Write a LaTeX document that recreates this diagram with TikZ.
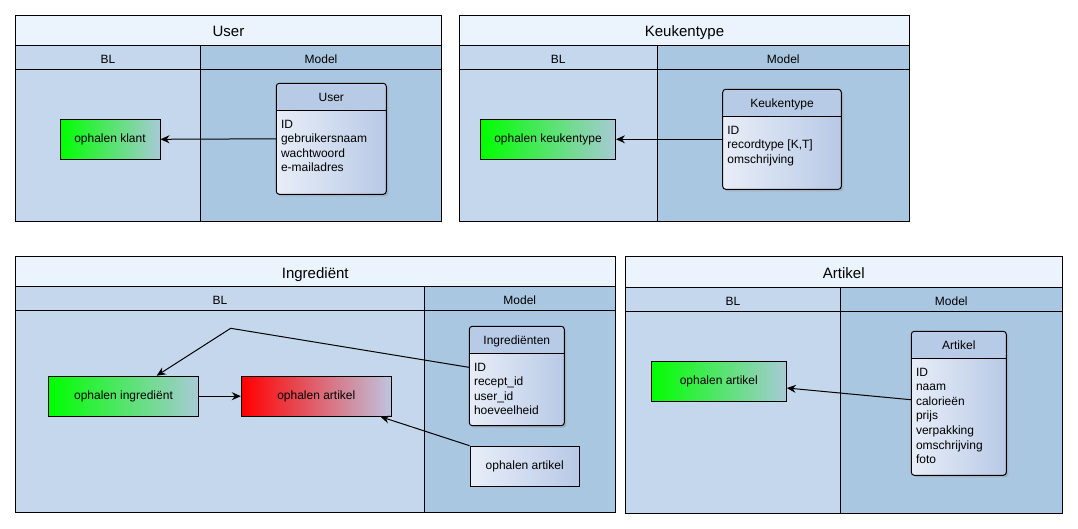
\documentclass[tikz,border=0pt]{standalone}
\usepackage{fontspec}
\setmainfont{Liberation Sans}
\usepackage{tikz}
\usetikzlibrary{arrows.meta}
\usetikzlibrary{shadows}

\definecolor{titlefill}{RGB}{235,243,253}
\definecolor{blfill}{RGB}{196,215,236}
\definecolor{modelfill}{RGB}{169,199,225}
\definecolor{entityhead}{RGB}{184,203,230}
\definecolor{entityleft}{RGB}{232,238,248}
\definecolor{entityright}{RGB}{184,201,230}
\definecolor{greenend}{RGB}{168,202,214}
\definecolor{redend}{RGB}{190,196,222}

\tikzset{
    paneltitle/.style={font=\fontsize{15}{18}\selectfont, anchor=base},
    lanetitle/.style={font=\fontsize{12}{14}\selectfont, anchor=base},
    greenbox/.style={draw, left color=green, right color=greenend, minimum height=40, font=\fontsize{12}{14}\selectfont},
    redbox/.style={draw, left color=red, right color=redend, minimum height=40, font=\fontsize{12}{14}\selectfont},
    modelbox/.style={draw, left color=entityleft, right color=entityright, minimum height=40, font=\fontsize{12}{14}\selectfont},
    entity/.style={draw, rounded corners=3pt, left color=entityleft, right color=entityright,
        drop shadow={shadow xshift=2pt, shadow yshift=-2pt, opacity=0.3},
        path picture={
            \fill[entityhead] (path picture bounding box.north west) rectangle ([yshift=-27pt]path picture bounding box.north east);
            \draw ([yshift=-27pt]path picture bounding box.north west) -- ([yshift=-27pt]path picture bounding box.north east);
        }},
    etitle/.style={font=\fontsize{12}{14}\selectfont, anchor=base},
    attrs/.style={font=\fontsize{12}{14.6}\selectfont, align=left, anchor=north west, inner sep=0pt},
    flow/.style={-{Stealth[length=9pt, width=8pt, inset=3pt]}}
}

% name, title, left, divider, right, top, bottom
\newcommand{\swimlane}[7]{%
    \draw[fill=titlefill] (#3, #6) rectangle (#5, #6+30);
    \draw[fill=blfill] (#3, #6+30) rectangle (#4, #7);
    \draw[fill=modelfill] (#4, #6+30) rectangle (#5, #7);
    \draw (#3, #6+54) -- (#5, #6+54);
    \node[paneltitle] (#1) at ({(#3+#5)/2}, #6+21.5) {#2};
    \node[lanetitle] (#1BL) at ({(#3+#4)/2}, #6+48) {BL};
    \node[lanetitle] (#1Model) at ({(#4+#5)/2}, #6+48) {Model};
}

\begin{document}
\begin{tikzpicture}[x=1pt, y=-1pt, line width=1pt]
    \useasboundingbox (0, 0) rectangle (1078, 529);

    \swimlane{user}{User}{15.5}{200.5}{441.5}{15.5}{221.5}
    \swimlane{keuken}{Keukentype}{459.5}{657}{909.5}{15.5}{221.5}
    \swimlane{ingredient}{Ingrediënt}{15.5}{424.5}{615}{256.5}{512.5}
    \swimlane{artikel}{Artikel}{625.5}{840.5}{1062}{257}{513}

    % User
    \node[greenbox, minimum width=100] (klant) at (110, 139.3) {ophalen klant};
    \node[entity, minimum width=110, minimum height=111] (userE) at (331.3, 138.8) {};
    \node[etitle] (userEt) at ([yshift=-19pt]userE.north) {User};
    \node[attrs] (userEa) at ([xshift=4.7pt, yshift=-36.5pt]userE.north west) {ID\\gebruikersnaam\\wachtwoord\\e-mailadres};
    \draw[flow] (userE.west) -- (klant.east);

    % Keukentype
    \node[greenbox, minimum width=135] (keuken) at (548, 139.3) {ophalen keukentype};
    \node[entity, minimum width=118.6, minimum height=100] (keukE) at (782, 139.3) {};
    \node[etitle] (keukEt) at ([yshift=-19pt]keukE.north) {Keukentype};
    \node[attrs] (keukEa) at ([xshift=4.7pt, yshift=-36.5pt]keukE.north west) {ID\\recordtype [K,T]\\omschrijving};
    \draw[flow] (keukE.west) -- (keuken.east);

    % Ingredient
    \node[greenbox, minimum width=150] (ingr) at (123.5, 396.2) {ophalen ingrediënt};
    \node[redbox, minimum width=150] (artR) at (316.3, 396.2) {ophalen artikel};
    \node[entity, minimum width=95, minimum height=99.4] (ingE) at (516.8, 376) {};
    \node[etitle] (ingEt) at ([yshift=-19pt]ingE.north) {Ingrediënten};
    \node[attrs] (ingEa) at ([xshift=4.7pt, yshift=-36.5pt]ingE.north west) {ID\\recept\_id\\user\_id\\hoeveelheid};
    \node[modelbox, minimum width=109.3] (artM) at (524.7, 466.2) {ophalen artikel};
    \coordinate (bend) at (230.7, 328.3);
    \draw[flow] ([yshift=8.7pt]ingE.west) -- (bend) -- ([xshift=33.2pt]ingr.north);
    \draw[flow] (ingr.east) -- (artR.west);
    \draw[flow] (artM.north west) -- ([xshift=-11.3pt]artR.south east);

    % Artikel
    \node[greenbox, minimum width=135] (artK) at (718.8, 381.3) {ophalen artikel};
    \node[entity, minimum width=95, minimum height=144] (artE) at (958.8, 403.3) {};
    \node[etitle] (artEt) at ([yshift=-19pt]artE.north) {Artikel};
    \node[attrs] (artEa) at ([xshift=4.7pt, yshift=-36.5pt]artE.north west) {ID\\naam\\calorieën\\prijs\\verpakking\\omschrijving\\foto};
    \draw[flow] ([yshift=3.6pt]artE.west) -- ([yshift=-6.7pt]artK.east);
\end{tikzpicture}
\end{document}
